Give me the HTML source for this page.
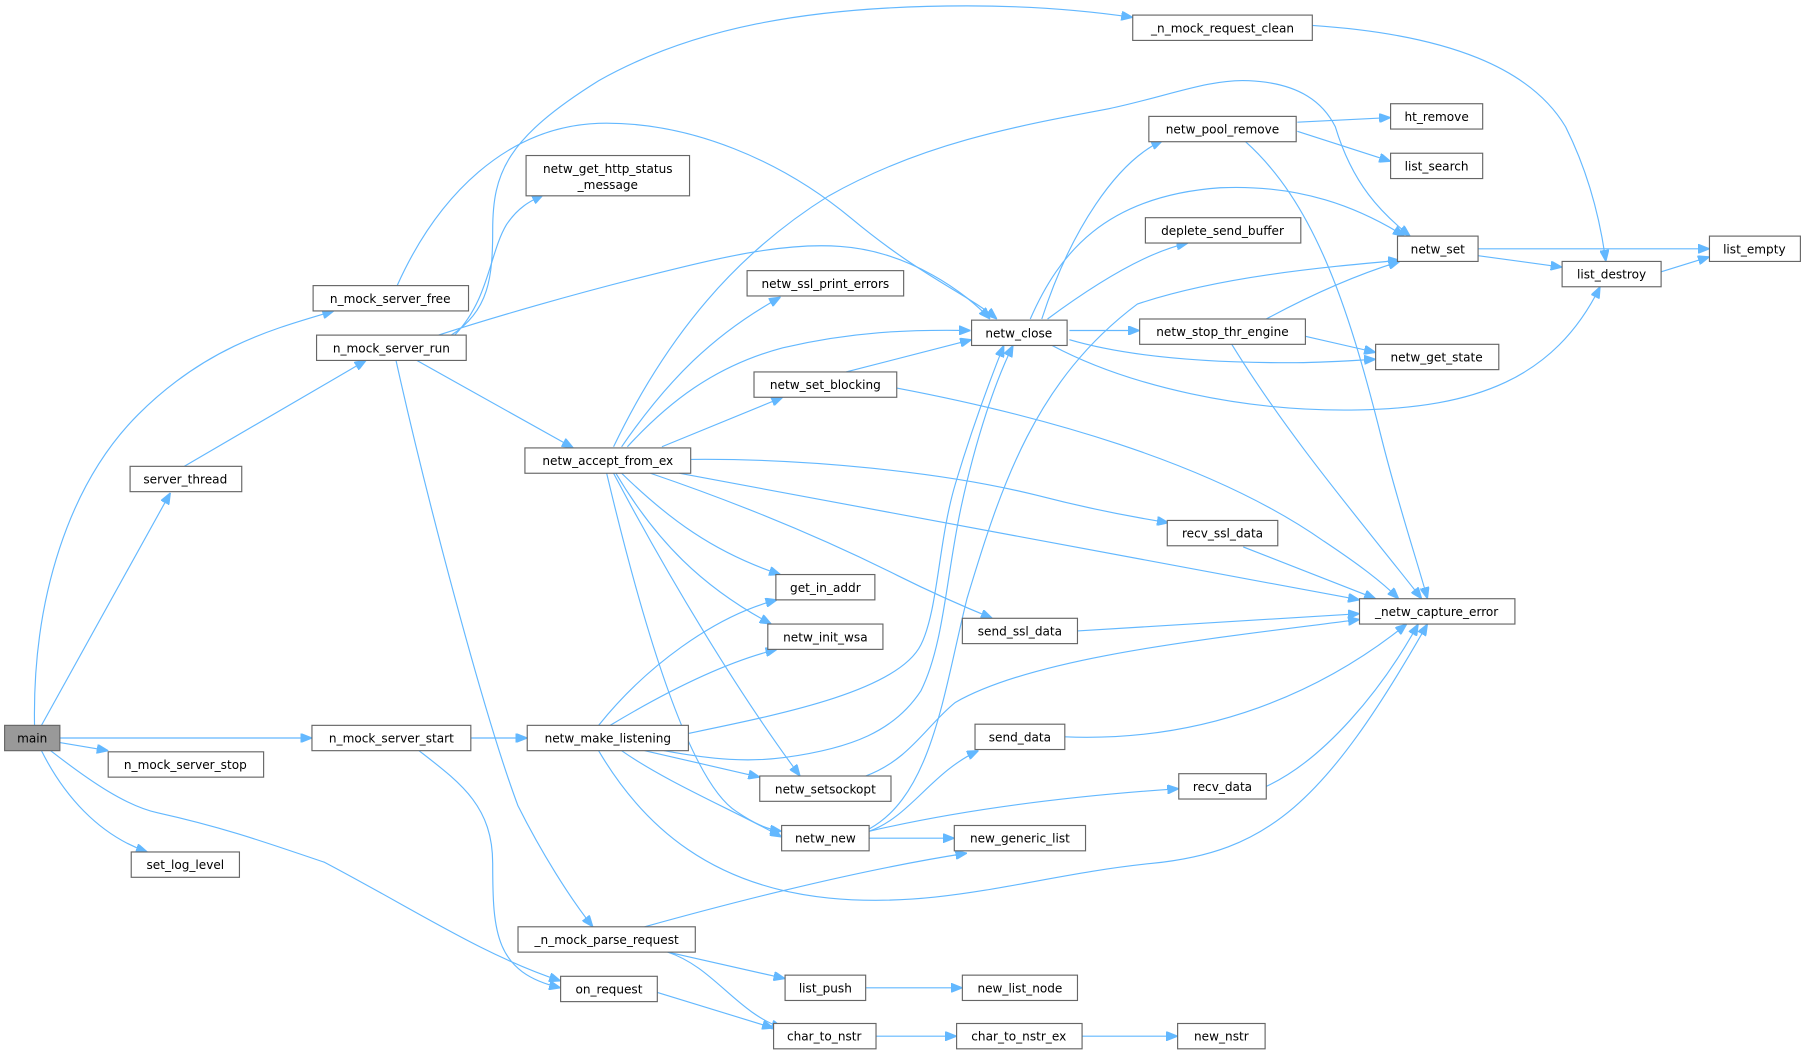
<!DOCTYPE html>
<html><head><meta charset="utf-8"><style>
html,body{margin:0;padding:0;background:#fff}
svg{display:block}
text{font-family:"DejaVu Sans","Liberation Sans",sans-serif;font-size:10.5px;fill:#000}
.n{fill:#fff;stroke:#666;stroke-width:1}
.e{fill:none;stroke:#63b8ff;stroke-width:1}
</style></head><body>
<svg width="1805" height="1057" viewBox="0 0 1568 918" xmlns="http://www.w3.org/2000/svg">
<defs><marker id="a" markerWidth="10" markerHeight="8" refX="10" refY="4" orient="auto" markerUnits="userSpaceOnUse"><path d="M0,0 L10,4 L0,8 z" fill="#63b8ff" stroke="#63b8ff"/></marker></defs>
<g class="e" marker-end="url(#a)">
<path d="M30,630 C28,520 60,420 120,360 C180,300 240,285 290,270"/>
<path d="M36,630 L148,428"/>
<path d="M52,641 L271,641"/>
<path d="M52,645 L94,652"/>
<path d="M36,652 C55,690 85,725 128,740"/>
<path d="M44,652 C80,680 110,700 137,706 C200,720 240,735 282,749 C360,790 420,830 487,852"/>
<path d="M160,405 L318,313"/>
<path d="M392,291 C425,270 428,240 428,200 C428,150 440,120 520,70 C600,25 700,5 840,5 C900,5 950,10 984,15"/>
<path d="M345,248 C380,170 440,110 520,107 C600,105 680,140 740,190 C800,240 840,255 866,277"/>
<path d="M395,291 C425,260 425,220 440,195 C450,180 460,175 472,169"/>
<path d="M381,291 C430,275 500,255 560,240 C620,225 680,210 730,214 C790,218 840,255 860,277"/>
<path d="M362,313 L498,389"/>
<path d="M344,313 C370,430 420,620 450,700 C470,740 495,780 515,805"/>
<path d="M409,641 L458,641"/>
<path d="M364,652 C400,680 428,700 428,750 C428,810 430,845 487,858"/>
<path d="M545,388 C580,350 620,318 680,302 C740,288 790,286 843,287"/>
<path d="M540,388 C580,330 620,290 678,258"/>
<path d="M533,388 C580,290 640,220 720,170 C800,125 880,110 960,95 C1010,85 1050,68 1085,70 C1130,72 1150,90 1160,110 C1175,160 1200,185 1225,205"/>
<path d="M575,388 L680,345"/>
<path d="M600,399 C700,398 820,410 900,430 C950,443 990,450 1015,454"/>
<path d="M590,411 C700,430 900,470 1181,521"/>
<path d="M565,411 C650,440 720,470 780,500 C810,515 840,528 862,537"/>
<path d="M540,411 C580,450 620,480 678,499"/>
<path d="M535,411 C570,470 610,510 670,542"/>
<path d="M533,411 C580,500 640,600 695,674"/>
<path d="M527,411 C560,550 600,680 640,705 C655,715 665,720 679,722"/>
<path d="M905,277 C930,200 970,140 1010,122"/>
<path d="M895,277 C920,220 960,170 1060,163 C1130,160 1180,180 1220,205"/>
<path d="M910,277 C960,240 1000,218 1032,211"/>
<path d="M929,287 L990,287"/>
<path d="M929,295 C980,310 1050,315 1120,315 C1150,315 1175,313 1195,312"/>
<path d="M914,300 C980,335 1080,358 1180,356 C1280,354 1350,330 1390,249"/>
<path d="M735,323 L844,295"/>
<path d="M779,337 C900,360 1050,400 1150,470 C1180,490 1200,505 1215,520"/>
<path d="M1127,106 L1208,102"/>
<path d="M1127,114 L1208,140"/>
<path d="M1082,123 C1140,175 1170,260 1200,380 C1215,440 1232,490 1240,520"/>
<path d="M1100,277 C1150,250 1190,235 1216,227"/>
<path d="M1134,292 L1195,306"/>
<path d="M1070,299 C1120,380 1180,450 1235,520"/>
<path d="M1284,216 L1485,216"/>
<path d="M1284,222 L1357,232"/>
<path d="M1443,236 L1485,223"/>
<path d="M1140,22 C1260,30 1330,60 1360,110 C1380,150 1390,190 1395,227"/>
<path d="M1080,475 L1195,520"/>
<path d="M936,548 L1181,533"/>
<path d="M925,640 C1050,645 1150,600 1222,542"/>
<path d="M1100,683 C1150,660 1200,600 1232,542"/>
<path d="M520,630 C560,580 620,535 675,521"/>
<path d="M530,630 C580,600 630,575 675,564"/>
<path d="M598,637 C680,620 780,600 800,560 C815,530 815,470 830,420 C845,370 860,330 872,300"/>
<path d="M577,652 C620,660 650,662 681,658 C740,650 777,635 800,600 C820,560 822,500 835,440 C848,380 865,330 880,300"/>
<path d="M560,652 L660,675"/>
<path d="M540,652 C580,680 640,705 679,727"/>
<path d="M520,652 C560,720 620,770 720,780 C820,790 900,760 1000,750 C1100,740 1150,700 1240,542"/>
<path d="M752,674 C790,660 805,630 830,610 C900,570 1050,555 1181,538"/>
<path d="M755,722 C790,710 810,670 850,652"/>
<path d="M755,722 C850,700 950,690 1024,685"/>
<path d="M755,728 L829,728"/>
<path d="M755,720 C810,690 820,600 840,520 C870,420 900,330 988,264 C1060,240 1150,232 1216,226"/>
<path d="M560,805 C650,780 750,755 840,741"/>
<path d="M580,827 L682,850"/>
<path d="M580,827 C620,840 640,880 680,893"/>
<path d="M571,862 L672,893"/>
<path d="M752,858 L836,858"/>
<path d="M761,900 L831,900"/>
<path d="M940,900 L1023,900"/>
</g>
<g>
<rect x="4" y="630" width="48" height="22" fill="#999" stroke="#666"/><text x="28" y="645" text-anchor="middle">main</text>
<rect class="n" x="272" y="248" width="135" height="22"/><text x="339" y="263" text-anchor="middle">n_mock_server_free</text>
<rect class="n" x="275" y="291" width="130" height="22"/><text x="340" y="306" text-anchor="middle">n_mock_server_run</text>
<rect class="n" x="113" y="405" width="97" height="22"/><text x="161" y="420" text-anchor="middle">server_thread</text>
<rect class="n" x="271" y="630" width="138" height="22"/><text x="340" y="645" text-anchor="middle">n_mock_server_start</text>
<rect class="n" x="94" y="653" width="135" height="22"/><text x="161" y="668" text-anchor="middle">n_mock_server_stop</text>
<rect class="n" x="114" y="740" width="94" height="22"/><text x="161" y="755" text-anchor="middle">set_log_level</text>
<rect class="n" x="984" y="13" width="156" height="22"/><text x="1062" y="28" text-anchor="middle">_n_mock_request_clean</text>
<rect class="n" x="457" y="135" width="142" height="35"/><text x="528" y="150" text-anchor="middle">netw_get_http_status</text><text x="528" y="164" text-anchor="middle">_message</text>
<rect class="n" x="649" y="235" width="136" height="22"/><text x="717" y="250" text-anchor="middle">netw_ssl_print_errors</text>
<rect class="n" x="456" y="389" width="144" height="22"/><text x="528" y="404" text-anchor="middle">netw_accept_from_ex</text>
<rect class="n" x="655" y="323" width="124" height="22"/><text x="717" y="338" text-anchor="middle">netw_set_blocking</text>
<rect class="n" x="844" y="278" width="83" height="22"/><text x="885" y="293" text-anchor="middle">netw_close</text>
<rect class="n" x="998" y="101" width="128" height="22"/><text x="1062" y="116" text-anchor="middle">netw_pool_remove</text>
<rect class="n" x="995" y="189" width="135" height="22"/><text x="1062" y="204" text-anchor="middle">deplete_send_buffer</text>
<rect class="n" x="990" y="277" width="144" height="22"/><text x="1062" y="292" text-anchor="middle">netw_stop_thr_engine</text>
<rect class="n" x="1208" y="90" width="80" height="22"/><text x="1248" y="105" text-anchor="middle">ht_remove</text>
<rect class="n" x="1208" y="133" width="80" height="22"/><text x="1248" y="148" text-anchor="middle">list_search</text>
<rect class="n" x="1214" y="205" width="70" height="22"/><text x="1249" y="220" text-anchor="middle">netw_set</text>
<rect class="n" x="1357" y="227" width="86" height="22"/><text x="1400" y="242" text-anchor="middle">list_destroy</text>
<rect class="n" x="1485" y="205" width="79" height="22"/><text x="1524" y="220" text-anchor="middle">list_empty</text>
<rect class="n" x="1195" y="299" width="107" height="22"/><text x="1248" y="314" text-anchor="middle">netw_get_state</text>
<rect class="n" x="1181" y="520" width="135" height="22"/><text x="1248" y="535" text-anchor="middle">_netw_capture_error</text>
<rect class="n" x="1014" y="452" width="96" height="22"/><text x="1062" y="467" text-anchor="middle">recv_ssl_data</text>
<rect class="n" x="674" y="499" width="86" height="22"/><text x="717" y="514" text-anchor="middle">get_in_addr</text>
<rect class="n" x="667" y="542" width="100" height="22"/><text x="717" y="557" text-anchor="middle">netw_init_wsa</text>
<rect class="n" x="836" y="537" width="100" height="22"/><text x="886" y="552" text-anchor="middle">send_ssl_data</text>
<rect class="n" x="458" y="630" width="140" height="22"/><text x="528" y="645" text-anchor="middle">netw_make_listening</text>
<rect class="n" x="660" y="674" width="114" height="22"/><text x="717" y="689" text-anchor="middle">netw_setsockopt</text>
<rect class="n" x="847" y="629" width="78" height="22"/><text x="886" y="644" text-anchor="middle">send_data</text>
<rect class="n" x="1024" y="672" width="76" height="22"/><text x="1062" y="687" text-anchor="middle">recv_data</text>
<rect class="n" x="679" y="717" width="76" height="22"/><text x="717" y="732" text-anchor="middle">netw_new</text>
<rect class="n" x="829" y="717" width="114" height="22"/><text x="886" y="732" text-anchor="middle">new_generic_list</text>
<rect class="n" x="450" y="805" width="154" height="22"/><text x="527" y="820" text-anchor="middle">_n_mock_parse_request</text>
<rect class="n" x="487" y="848" width="84" height="22"/><text x="529" y="863" text-anchor="middle">on_request</text>
<rect class="n" x="682" y="847" width="70" height="22"/><text x="717" y="862" text-anchor="middle">list_push</text>
<rect class="n" x="836" y="847" width="100" height="22"/><text x="886" y="862" text-anchor="middle">new_list_node</text>
<rect class="n" x="672" y="889" width="89" height="22"/><text x="716" y="904" text-anchor="middle">char_to_nstr</text>
<rect class="n" x="831" y="889" width="109" height="22"/><text x="885" y="904" text-anchor="middle">char_to_nstr_ex</text>
<rect class="n" x="1023" y="889" width="76" height="22"/><text x="1061" y="904" text-anchor="middle">new_nstr</text>
</g>
</svg>
</body></html>
